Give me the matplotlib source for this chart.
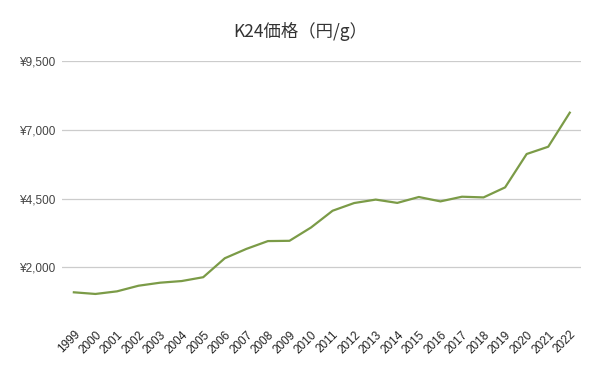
import matplotlib
matplotlib.use("Agg")
import matplotlib.pyplot as plt
from matplotlib.ticker import FuncFormatter
import matplotlib.transforms as mtransforms

years = list(range(1999, 2023))
prices = [1090, 1030, 1125, 1330, 1440, 1500, 1640, 2330, 2670, 2955, 2965, 3450,
          4060, 4340, 4465, 4345, 4560, 4400, 4570, 4545, 4910, 6125, 6390, 7630]
yticks = [2000, 4500, 7000, 9500]

plt.rcParams['font.family'] = ['Liberation Sans', 'DejaVu Sans']

fig = plt.figure(figsize=(6, 3.71), dpi=100)
ax = fig.add_axes([62/600, 1-305/371, (581-62)/600, (305-61.3)/371])

ax.plot(years, prices, color='#7b9b47', lw=1.6, solid_joinstyle='round')

ax.set_xlim(1999-0.55, 2022+0.52)
ax.set_ylim(628, 9500)
ax.set_yticks(yticks)
ax.yaxis.set_major_formatter(FuncFormatter(lambda v, p: f"¥{int(v):,}"))
ax.set_xticks(years)
ax.set_xticklabels([str(y) for y in years], rotation=45, ha='right',
                   rotation_mode='anchor', fontsize=8.5, color='#222222')
offset = mtransforms.ScaledTranslation(5/100, 0, fig.dpi_scale_trans)
for lbl in ax.get_xticklabels():
    lbl.set_transform(lbl.get_transform() + offset)
ax.tick_params(axis='y', labelsize=8.5, labelcolor='#444444', length=0, pad=5)
ax.tick_params(axis='x', length=0, pad=17)
ax.grid(axis='y', color='#cccccc', lw=0.9)
ax.set_axisbelow(True)
for s in ax.spines.values():
    s.set_visible(False)

fig.text(0.5, 1-31/371, "K24価格（円/g）", ha='center', va='center', fontsize=12.5,
         color='#333333', family=['Noto Sans CJK JP', 'DejaVu Sans'])

fig.savefig("out.png", dpi=100)
